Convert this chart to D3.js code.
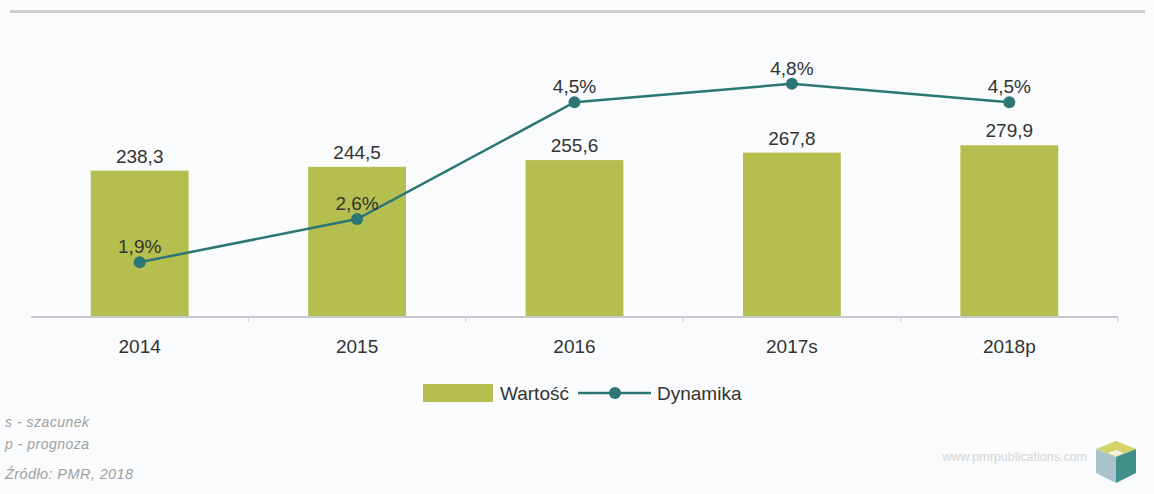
<!DOCTYPE html>
<html>
<head>
<meta charset="utf-8">
<script src="https://cdn.jsdelivr.net/npm/d3@7"></script>
<style>
  body { margin: 0; background: #f9fbfc; }
  svg { display: block; font-family: "Liberation Sans", Arial, sans-serif; }
</style>
</head>
<body>
<div id="chart"></div>
<script>
var svgWidth = 1154;
var svgHeight = 494;

// data
var years = ["2014", "2015", "2016", "2017s", "2018p"];
var values = [238.3, 244.5, 255.6, 267.8, 279.9];
var growth = [1.9, 2.6, 4.5, 4.8, 4.5];
var notes = ["s - szacunek", "p - prognoza"];
var source = "Źródło: PMR, 2018";

var barColor = "#b4bf4f";
var lineColor = "#2d7676";
var textColor = "#333";

function fmt(v, dec) {
    return v.toFixed(dec).replace(".", ",");
}

var svg = d3.select("#chart").append("svg")
    .attr("width", svgWidth)
    .attr("height", svgHeight);

// top rule
svg.append("rect")
    .attr("x", 10).attr("y", 10)
    .attr("width", 1135).attr("height", 3)
    .attr("fill", "#cfcfcf");

var xScale = d3.scaleBand()
    .domain(years)
    .range([31, 1118])
    .padding(0);

var yScale = d3.scaleLinear()
    .domain([0, 500])
    .range([316, 11]);

var y2Scale = d3.scaleLinear()
    .domain([0, 5])
    .range([379, 71.5]);

var barWidth = xScale.bandwidth() * 0.45;

// bars
svg.selectAll(".bar")
    .data(values)
    .enter()
    .append("rect")
    .attr("class", "bar")
    .attr("x", (d, i) => xScale(years[i]) + (xScale.bandwidth() - barWidth) / 2)
    .attr("y", d => yScale(d))
    .attr("width", barWidth)
    .attr("height", d => yScale(0) - yScale(d))
    .attr("fill", barColor);

svg.selectAll(".barLabel")
    .data(values)
    .enter()
    .append("text")
    .attr("x", (d, i) => xScale(years[i]) + xScale.bandwidth() / 2)
    .attr("y", d => yScale(d) - 8)
    .attr("text-anchor", "middle")
    .attr("font-size", "19px")
    .attr("fill", textColor)
    .text(d => fmt(d, 1));

// x axis
var axis = svg.append("g")
    .attr("transform", `translate(0, ${yScale(0) + 1})`);

axis.append("line")
    .attr("x1", xScale.range()[0]).attr("x2", xScale.range()[1])
    .attr("stroke", "#b8b8c4").attr("stroke-width", 1.5);

axis.selectAll(".tick")
    .data(years.slice(1).concat([null]))
    .enter()
    .append("line")
    .attr("x1", d => d ? xScale(d) : xScale.range()[1])
    .attr("x2", d => d ? xScale(d) : xScale.range()[1])
    .attr("y1", 0).attr("y2", 5)
    .attr("stroke", "#c8c8d0").attr("stroke-width", 1);

axis.selectAll(".yearLabel")
    .data(years)
    .enter()
    .append("text")
    .attr("x", d => xScale(d) + xScale.bandwidth() / 2)
    .attr("y", 36)
    .attr("text-anchor", "middle")
    .attr("font-size", "19px")
    .attr("fill", textColor)
    .text(d => d);

// line
var line = d3.line()
    .x((d, i) => xScale(years[i]) + xScale.bandwidth() / 2)
    .y(d => y2Scale(d));

svg.append("path")
    .datum(growth)
    .attr("d", line)
    .attr("fill", "none")
    .attr("stroke", lineColor)
    .attr("stroke-width", 2.5);

svg.selectAll(".dot")
    .data(growth)
    .enter()
    .append("circle")
    .attr("cx", (d, i) => xScale(years[i]) + xScale.bandwidth() / 2)
    .attr("cy", d => y2Scale(d))
    .attr("r", 6)
    .attr("fill", lineColor);

svg.selectAll(".dotLabel")
    .data(growth)
    .enter()
    .append("text")
    .attr("x", (d, i) => xScale(years[i]) + xScale.bandwidth() / 2)
    .attr("y", d => y2Scale(d) - 9)
    .attr("text-anchor", "middle")
    .attr("font-size", "19px")
    .attr("fill", textColor)
    .text(d => fmt(d, 1) + "%");

// legend
var legend = svg.append("g");
legend.append("rect")
    .attr("x", 423).attr("y", 384)
    .attr("width", 70).attr("height", 18)
    .attr("fill", barColor);
legend.append("text")
    .attr("x", 500).attr("y", 400)
    .attr("font-size", "19px").attr("fill", textColor)
    .text("Wartość");
legend.append("line")
    .attr("x1", 578).attr("x2", 651)
    .attr("y1", 393).attr("y2", 393)
    .attr("stroke", lineColor).attr("stroke-width", 2.5);
legend.append("circle")
    .attr("cx", 615).attr("cy", 393).attr("r", 6)
    .attr("fill", lineColor);
legend.append("text")
    .attr("x", 657).attr("y", 400)
    .attr("font-size", "19px").attr("fill", textColor)
    .text("Dynamika");

// footnotes
svg.selectAll(".note")
    .data(notes)
    .enter()
    .append("text")
    .attr("x", 5)
    .attr("y", (d, i) => 427 + i * 22)
    .attr("font-size", "14px")
    .attr("font-style", "italic")
    .attr("letter-spacing", "0.5px")
    .attr("fill", "#a0a0a0")
    .text(d => d);

svg.append("text")
    .attr("x", 5).attr("y", 479)
    .attr("font-size", "14.5px")
    .attr("font-style", "italic")
    .attr("letter-spacing", "0.4px")
    .attr("fill", "#a0a0a0")
    .text(source);

// publisher mark
svg.append("text")
    .attr("x", 1087).attr("y", 461)
    .attr("text-anchor", "end")
    .attr("font-size", "12.5px")
    .attr("fill", "#d6d6d6")
    .text("www.pmrpublications.com");

var cube = svg.append("g").attr("transform", "translate(1116, 463)");
cube.append("polygon").attr("points", "-20,-14 0,-22 20,-14 0,-6").attr("fill", "#d6d36a");
cube.append("polygon").attr("points", "-20,-14 0,-6 0,20 -20,10").attr("fill", "#a9c2cc");
cube.append("polygon").attr("points", "0,-6 20,-14 20,10 0,20").attr("fill", "#3f8f8a");
cube.append("polygon").attr("points", "-8,-10 0,-13 8,-10 0,-7").attr("fill", "#f4f4e8");
</script>
</body>
</html>
